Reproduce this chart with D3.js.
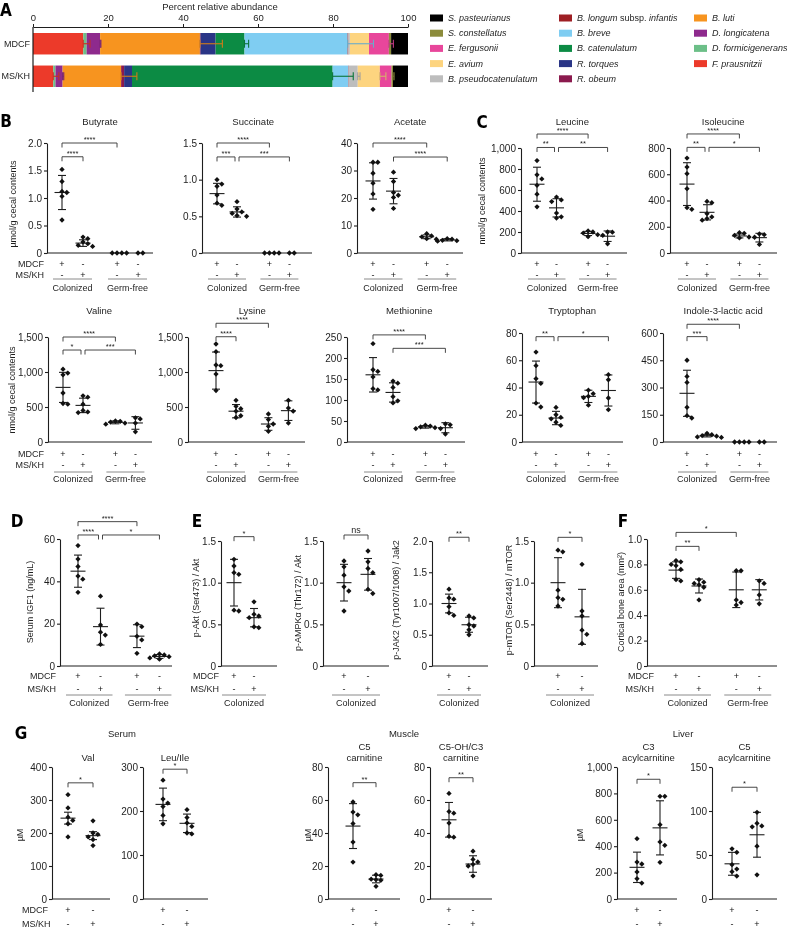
<!DOCTYPE html>
<html><head><meta charset="utf-8">
<script src="https://cdn.jsdelivr.net/npm/d3@7"></script>
<style>
body{margin:0;background:#fff}
svg{display:block;font-family:"Liberation Sans",Arial,Helvetica,sans-serif;will-change:transform}
</style></head><body>
<svg id="fig" width="787" height="928"></svg>
<script>
// ================= DATA =================
// Panel A (legend order)
const legendSpecies = ["S. pasteurianus","S. constellatus","E. fergusonii","E. avium","B. pseudocatenulatum",
  "B. longum subsp. infantis","B. breve","B. catenulatum","R. torques","R. obeum",
  "B. luti","D. longicatena","D. formicigenerans","F. prausnitzii"];
const legendColors = ["#000000","#8c8c3c","#e8469b","#fdd47f","#bdbdbd",
  "#9e1f24","#7fcdf2","#0c8b44","#2a3586","#8b1a4e",
  "#f7941f","#8e2a8d","#6cbf88","#ec3a2a"];
const samples = ["MDCF","MS/KH"];
// stacking order (left to right) = reversed legend order
const abundanceMDCF = [13.4,0.9,3.6,26.6,0.2,4.0,7.7,27.5,0.2,0.4,5.1,5.3,0.6,4.5];
const abundanceMSKH = [5.4,0.6,1.9,15.6,0.8,2.1,53.5,4.2,0.1,2.4,5.9,3.1,0.4,4.0];
const sdMDCF = [1.8,0,0.2,6.0,0,0,1.1,6.9,0,0,0,1.2,0,0];
const sdMSKH = [1.5,0,0.3,4.2,0,0,5.5,0,0,0.6,1.6,0,0.3,0];
const abundanceTicks = [0,20,40,60,80,100];

// Group sign rows
const mdcfSigns4 = ["+","-","+","-"], mskhSigns4 = ["-","+","-","+"];
const mdcfSigns2 = ["+","-"], mskhSigns2 = ["-","+"];
const groupNames = ["Colonized","Germ-free"];

// B
const butyrateVals = [[1.52,1.3,1.12,1.1,1.03,0.6],[0.29,0.26,0.2,0.17,0.14,0.12],[0,0,0,0],[0,0]];
const butyrateStats = [[1.1,0.31],[0.18,0.06],[0,0],[0,0]];
const butyrateTicks = [0,0.5,1,1.5,2];
const butyrateSig = [[0,2,2.0,"****"],[0,1,1.75,"****"]];

const succinateVals = [[1.0,0.94,0.91,0.79,0.68,0.65],[0.7,0.6,0.56,0.54,0.51,0.5],[0,0,0,0],[0,0]];
const succinateStats = [[0.81,0.14],[0.56,0.07],[0,0],[0,0]];
const succinateTicks = [0,0.5,1,1.5];
const succinateSig = [[0,2,1.5,"****"],[0,1,1.31,"***"],[1,3,1.31,"***"]];

const acetateVals = [[33,33,29,25.4,21.5,15.9],[29.4,26,22,21,20.2,16.2],[7,6.2,5.9,5.2,5],[5.2,5,4.6,4.5,4.3]];
const acetateStats = [[26.2,6.6],[22.5,4.6],[5.9,0.7],[4.8,0.4]];
const acetateTicks = [0,10,20,30,40];
const acetateSig = [[0,2,40,"****"],[1,3,34.9,"****"]];

// C
const leucineVals = [[880,745,705,645,560,440],[533,505,490,380,345,333],[210,200,190,175,155],[200,198,168,88]];
const leucineStats = [[655,162],[430,87],[186,20],[160,50]];
const leucineTicks = [0,200,400,600,800,1000];
const leucineSig = [[0,2,1133,"****"],[0,1,1005,"**"],[1,3,1005,"**"]];

const isoleucineVals = [[723,655,604,490,345,333],[393,383,300,275,262,250],[155,150,135,122,115],[145,140,120,65]];
const isoleucineStats = [[525,163],[310,58],[130,15],[117,33]];
const isoleucineTicks = [0,200,400,600,800];
const isoleucineSig = [[0,2,907,"****"],[0,1,805,"**"],[1,3,805,"*"]];

const valineVals = [[1040,985,960,700,550,540],[660,640,540,450,430,420],[300,295,285,270,255],[345,330,270,145]];
const valineStats = [[780,215],[523,103],[280,20],[272,90]];
const valineTicks = [0,500,1000,1500];
const valineSig = [[0,2,1500,"****"],[0,1,1314,"*"],[1,3,1314,"***"]];

const lysineVals = [[1400,1290,1100,1090,970,735],[595,510,475,440,375,350],[400,320,257,224,152],[595,485,440,270]];
const lysineStats = [[1020,265],[440,95],[257,90],[448,140]];
const lysineTicks = [0,500,1000,1500];
const lysineSig = [[0,2,1696,"****"],[0,1,1504,"****"]];

const methionineVals = [[234,172,168,155,127,124],[145,140,130,108,98,93],[40,38,36,34,32],[43,41,32,19]];
const methionineStats = [[160,41],[118,23],[36,3],[34,12]];
const methionineTicks = [0,50,100,150,200,250];
const methionineSig = [[0,2,255,"****"],[1,3,223,"***"]];

const tryptophanVals = [[66,56,46.5,43,28.5,25.7],[25.4,20,18,17,14.5,12.2],[38,35.5,33.5,32.5,27],[49.4,45.7,32.3,23.7]];
const tryptophanStats = [[44,15.4],[17.6,4.9],[33.5,4.5],[37.8,11.4]];
const tryptophanTicks = [0,20,40,60,80];
const tryptophanSig = [[0,1,77.3,"**"],[1,3,77.3,"*"]];

const indoleVals = [[450,361,328,191,145,132],[48,40,35,32,28,25],[0,0,0,0],[0,0]];
const indoleStats = [[268,127],[35,7],[0,0],[0,0]];
const indoleTicks = [0,150,300,450,600];
const indoleSig = [[0,2,648,"****"],[0,1,580,"***"]];

// D
const igf1Vals = [[56.9,50.5,47,42.5,41,34.8],[33,19.4,16,14.6,10.2],[19.8,18.6,14,12.3,6],[5.7,5.2,4.8,4.4,3.8,3.2]];
const igf1Stats = [[44.8,7.6],[18.6,8.7],[14.1,5.4],[4.5,0.9]];
const igf1Ticks = [0,20,40,60];
const igf1Sig = [[0,2,68.2,"****"],[0,1,61.9,"****"],[1,3,61.9,"*"]];

// E
const aktVals = [[1.28,1.2,1.12,1.1,0.67,0.66],[0.77,0.62,0.6,0.58,0.47,0.46]];
const aktStats = [[1.0,0.28],[0.58,0.11]];
const aktTicks = [0,0.5,1,1.5];
const aktSig = [[0,1,1.552,"*"]];

const ampkVals = [[1.26,1.19,1.09,0.95,0.9,0.66],[1.38,1.25,1.17,1.12,0.92,0.87]];
const ampkStats = [[1.0,0.22],[1.1,0.19]];
const ampkTicks = [0,0.5,1,1.5];
const ampkSig = [[0,1,1.572,"ns"]];

const jak2Vals = [[1.23,1.09,1.07,0.95,0.85,0.81],[0.8,0.77,0.66,0.64,0.58,0.5]];
const jak2Stats = [[1.0,0.15],[0.66,0.12]];
const jak2Ticks = [0,0.5,1,1.5,2];
const jak2Sig = [[0,1,2.06,"**"]];

const mtorVals = [[1.39,1.37,0.91,0.82,0.8,0.72],[1.22,0.66,0.6,0.43,0.38,0.27]];
const mtorStats = [[1.0,0.3],[0.59,0.33]];
const mtorTicks = [0,0.5,1,1.5];
const mtorSig = [[0,1,1.544,"*"]];

// F
const boneVals = [[0.83,0.82,0.8,0.79,0.76,0.68,0.67],[0.68,0.66,0.65,0.64,0.62,0.52],[0.75,0.75,0.52,0.5,0.48],[0.67,0.65,0.56,0.49]];
const boneStats = [[0.755,0.065],[0.63,0.055],[0.6,0.14],[0.6,0.08]];
const boneTicks = [0,0.2,0.4,0.6,0.8,1.0];
const boneSig = [[0,2,1.052,"*"],[0,1,0.942,"**"]];

// G
const valVals = [[316,276,248,238,228,188],[237,200,196,188,180,162]];
const valStats = [[245,18],[192,12]];
const valTicks = [0,100,200,300,400];
const valSig = [[0,1,352,"*"]];

const leuIleVals = [[270,227,218,210,190,171],[203,185,173,165,150,148]];
const leuIleStats = [[215,37],[172,21]];
const leuIleTicks = [0,100,200,300];
const leuIleSig = [[0,1,295,"*"]];

const c5carnVals = [[58.8,52.7,51,45.7,34.5,22.4],[14.7,14.3,12,11.7,11.3,7.7]];
const c5carnStats = [[44.2,13.6],[12.1,2.3]];
const c5carnTicks = [0,20,40,60,80];
const c5carnSig = [[0,1,70.5,"**"]];

const c5ohVals = [[64,53,52,46,38,37.5],[29,24,22.5,21,20,14]];
const c5ohStats = [[48,10.5],[21.2,5]];
const c5ohTicks = [0,20,40,60,80];
const c5ohSig = [[0,1,73.5,"**"]];

const c3acylVals = [[457,280,265,205,154,121],[778,778,563,432,407,278]];
const c3acylStats = [[240,115],[539,205]];
const c3acylTicks = [0,200,400,600,800,1000];
const c3acylSig = [[0,1,907,"*"]];

const c5acylVals = [[57,53,39,34,31,26],[98.5,86,83,82,60,27.5]];
const c5acylStats = [[40,13],[73,25.5]];
const c5acylTicks = [0,50,100,150];
const c5acylSig = [[0,1,127,"*"]];

// ================= LAYOUT =================
const INK = "#1e1e1e";
const svg = d3.select("#fig");
const slots4 = [0,1,2.62,3.62], slots2 = [0,1];

const rowCfg = {
  r1:{yBot:253, titleY:121, signY:[264,275], lineY:279, groupY:288, pad:9},
  r2:{yBot:442, titleY:310, signY:[454,465], lineY:472, groupY:479, pad:9},
  r3:{yBot:666, signY:[676,689], lineY:695, groupY:703, pad:12},
  rG:{yBot:899, titleY:757, signY:[910,924]}
};

const panels = [
  {row:"r1", title:["Butyrate"], vals:butyrateVals, stats:butyrateStats, ticks:butyrateTicks, sig:butyrateSig,
   ax:47, xEnd:153, yTop:143, g0:62, step:21, rowLabel:{x:44, anchor:"end"}, ylabel:{t:"µmol/g cecal contents", x:13, y:204}},
  {row:"r1", title:["Succinate"], vals:succinateVals, stats:succinateStats, ticks:succinateTicks, sig:succinateSig,
   ax:202, xEnd:312, yTop:143, g0:217, step:20},
  {row:"r1", title:["Acetate"], vals:acetateVals, stats:acetateStats, ticks:acetateTicks, sig:acetateSig,
   ax:357, xEnd:463, yTop:143, g0:373, step:20.5},
  {row:"r1", title:["Leucine"], vals:leucineVals, stats:leucineStats, ticks:leucineTicks, sig:leucineSig,
   ax:521, xEnd:627, yTop:148, g0:537, step:19.5, ylabel:{t:"nmol/g cecal contents", x:482, y:201}},
  {row:"r1", title:["Isoleucine"], vals:isoleucineVals, stats:isoleucineStats, ticks:isoleucineTicks, sig:isoleucineSig,
   ax:670, xEnd:777, yTop:148, g0:687, step:20},
  {row:"r2", title:["Valine"], vals:valineVals, stats:valineStats, ticks:valineTicks, sig:valineSig,
   ax:48, xEnd:152, yTop:337, g0:63, step:20, rowLabel:{x:44, anchor:"end"}, ylabel:{t:"nmol/g cecal contents", x:12, y:390}},
  {row:"r2", title:["Lysine"], vals:lysineVals, stats:lysineStats, ticks:lysineTicks, sig:lysineSig,
   ax:188, xEnd:305, yTop:337, g0:216, step:20},
  {row:"r2", title:["Methionine"], vals:methionineVals, stats:methionineStats, ticks:methionineTicks, sig:methionineSig,
   ax:347, xEnd:465, yTop:337, g0:373, step:20},
  {row:"r2", title:["Tryptophan"], vals:tryptophanVals, stats:tryptophanStats, ticks:tryptophanTicks, sig:tryptophanSig,
   ax:522, xEnd:623, yTop:333, g0:536, step:20},
  {row:"r2", title:["Indole-3-lactic acid"], vals:indoleVals, stats:indoleStats, ticks:indoleTicks, sig:indoleSig,
   ax:663, xEnd:777, yTop:333, g0:687, step:20},
  {row:"r3", vals:igf1Vals, stats:igf1Stats, ticks:igf1Ticks, sig:igf1Sig,
   ax:60, xEnd:172, yTop:539, g0:78, step:22.5, rowLabel:{x:56, anchor:"end"}, ylabel:{t:"Serum IGF1 (ng/mL)", x:30, y:602}},
  {row:"r3", vals:aktVals, stats:aktStats, ticks:aktTicks, sig:aktSig,
   ax:221, xEnd:277, yTop:541, g0:234, step:20, rowLabel:{x:219, anchor:"end"}, ylabel:{t:"p-Akt (Ser473) / Akt", x:196, y:598}},
  {row:"r3", vals:ampkVals, stats:ampkStats, ticks:ampkTicks, sig:ampkSig,
   ax:323, xEnd:389, yTop:541, g0:344, step:24, ylabel:{t:"p-AMPKα (Thr172) / Akt", x:298, y:603}},
  {row:"r3", vals:jak2Vals, stats:jak2Stats, ticks:jak2Ticks, sig:jak2Sig,
   ax:432, xEnd:488, yTop:541, g0:449, step:20, ylabel:{t:"p-JAK2 (Tyr1007/1008) / Jak2", x:396, y:600}},
  {row:"r3", vals:mtorVals, stats:mtorStats, ticks:mtorTicks, sig:mtorSig,
   ax:534, xEnd:598, yTop:541, g0:558, step:24, ylabel:{t:"p-mTOR (Ser2448) / mTOR", x:509, y:600}},
  {row:"r3", vals:boneVals, stats:boneStats, ticks:boneTicks, sig:boneSig,
   ax:647, xEnd:777, yTop:539, g0:676, step:23, rowLabel:{x:654, anchor:"end"}, ylabel:{t:"Cortical bone area (mm²)", x:621, y:602}},
  {row:"rG", title:["Val"], titleX:88, vals:valVals, stats:valStats, ticks:valTicks, sig:valSig,
   ax:52, xEnd:110, yTop:767, g0:68, step:25, rowLabel:{x:22, anchor:"start"}, ylabel:{t:"µM", x:20, y:835}},
  {row:"rG", title:["Leu/Ile"], vals:leuIleVals, stats:leuIleStats, ticks:leuIleTicks, sig:leuIleSig,
   ax:143, xEnd:208, yTop:767, g0:163, step:24},
  {row:"rG", title:["C5","carnitine"], vals:c5carnVals, stats:c5carnStats, ticks:c5carnTicks, sig:c5carnSig,
   ax:328, xEnd:400, yTop:767, g0:353, step:23, ylabel:{t:"µM", x:308, y:835}},
  {row:"rG", title:["C5-OH/C3","carnitine"], vals:c5ohVals, stats:c5ohStats, ticks:c5ohTicks, sig:c5ohSig,
   ax:430, xEnd:492, yTop:767, g0:449, step:24},
  {row:"rG", title:["C3","acylcarnitine"], vals:c3acylVals, stats:c3acylStats, ticks:c3acylTicks, sig:c3acylSig,
   ax:617, xEnd:677, yTop:767, g0:637, step:23, ylabel:{t:"µM", x:580, y:835}},
  {row:"rG", title:["C5","acylcarnitine"], vals:c5acylVals, stats:c5acylStats, ticks:c5acylTicks, sig:c5acylSig,
   ax:712, xEnd:777, yTop:767, g0:732, step:25}
];

// ================= HELPERS =================
function txt(g, x, y, s, o = {}) {
  return g.append("text").attr("x", x).attr("y", y).text(s)
    .attr("font-size", o.size || 9).attr("fill", o.fill || INK)
    .attr("text-anchor", o.anchor || "middle").attr("dominant-baseline", o.base || "central")
    .attr("font-weight", o.weight || null).attr("font-style", o.style || null)
    .attr("font-family", o.family || null);
}

function swarm(vals, y, d) {
  const pts = vals.map(v => ({v, py: y(v)})).sort((a, b) => a.py - b.py);
  const placed = [];
  for (const p of pts) {
    let k = 0, off = 0;
    while (k < 40) {
      off = k === 0 ? 0 : (k % 2 ? 1 : -1) * Math.ceil(k / 2) * d;
      if (placed.every(q => (q.dx - off) ** 2 + (q.py - p.py) ** 2 >= d * d - 0.01)) break;
      k++;
    }
    p.dx = off; placed.push(p);
  }
  return pts;
}

function dotPanel(P) {
  const R = rowCfg[P.row];
  const n = P.vals.length;
  const slots = n === 4 ? slots4 : slots2;
  const gx = i => P.g0 + slots[i] * P.step;
  const y = d3.scaleLinear().domain([0, d3.max(P.ticks)]).range([R.yBot, P.yTop]);
  const g = svg.append("g");
  const hasDec = P.ticks.some(t => !Number.isInteger(t));
  const axis = d3.axisLeft(y).tickValues(P.ticks).tickSize(3).tickSizeOuter(0).tickPadding(2)
    .tickFormat(v => v === 0 ? "0" : hasDec ? v.toFixed(1) : d3.format(",")(v));
  const ag = g.append("g").attr("transform", `translate(${P.ax},0)`).call(axis);
  ag.select(".domain").attr("stroke", INK).attr("stroke-width", 1.1);
  ag.selectAll(".tick line").attr("stroke", INK).attr("stroke-width", 1.1);
  ag.selectAll(".tick text").attr("font-size", 10).attr("fill", INK).attr("font-family", "Liberation Sans, Arial, sans-serif");
  g.append("line").attr("x1", P.ax).attr("x2", P.xEnd).attr("y1", R.yBot).attr("y2", R.yBot)
    .attr("stroke", INK).attr("stroke-width", 1.1);

  if (P.title) {
    const tx = P.titleX || (gx(0) + gx(n - 1)) / 2;
    P.title.forEach((t, i) => txt(g, tx, R.titleY - (P.title.length - 1 - i) * 10.5, t, {size: 9.5}));
  }
  if (P.ylabel) {
    g.append("text").attr("transform", `translate(${P.ylabel.x},${P.ylabel.y}) rotate(-90)`)
      .attr("text-anchor", "middle").attr("dominant-baseline", "central")
      .attr("font-size", 9).attr("fill", INK).text(P.ylabel.t);
  }
  P.vals.forEach((vals, i) => {
    const cx = gx(i);
    const [m, e] = P.stats[i];
    if (!(m === 0 && e === 0)) {
      const eg = g.append("g").attr("stroke", INK).attr("stroke-width", 1.1);
      eg.append("line").attr("x1", cx).attr("x2", cx).attr("y1", y(m - e)).attr("y2", y(m + e));
      eg.append("line").attr("x1", cx - 4).attr("x2", cx + 4).attr("y1", y(m + e)).attr("y2", y(m + e));
      eg.append("line").attr("x1", cx - 4).attr("x2", cx + 4).attr("y1", y(m - e)).attr("y2", y(m - e));
      eg.append("line").attr("x1", cx - 7.5).attr("x2", cx + 7.5).attr("y1", y(m)).attr("y2", y(m));
    }
    const pts = swarm(vals, y, 4.8);
    g.selectAll(null).data(pts).enter().append("path")
      .attr("d", d3.symbol().type(d3.symbolSquare).size(14)())
      .attr("transform", p => `translate(${cx + p.dx},${p.py}) rotate(45)`)
      .attr("fill", "#111");
  });
  P.sig.forEach(([a, b, lev, lab]) => {
    const yy = y(lev);
    const sharedL = P.sig.some(s => s[2] === lev && s[1] === a);
    const sharedR = P.sig.some(s => s[2] === lev && s[0] === b);
    const x1 = gx(a) + (sharedL ? 2 : 0), x2 = gx(b) - (sharedR ? 2 : 0);
    g.append("path").attr("d", `M${x1},${yy + 4.5}V${yy}H${x2}V${yy + 4.5}`)
      .attr("fill", "none").attr("stroke", "#333").attr("stroke-width", 0.9);
    txt(g, (x1 + x2) / 2, yy - (lab === "ns" ? 5.5 : 3.5), lab, {size: lab === "ns" ? 9 : 7.5});
  });
  const mdcf = n === 4 ? mdcfSigns4 : mdcfSigns2, mskh = n === 4 ? mskhSigns4 : mskhSigns2;
  for (let i = 0; i < n; i++) {
    txt(g, gx(i), R.signY[0], mdcf[i], {size: 9, fill: "#111"});
    txt(g, gx(i), R.signY[1], mskh[i], {size: 9, fill: "#111"});
  }
  if (P.rowLabel) {
    txt(g, P.rowLabel.x, R.signY[0], "MDCF", {size: 9, anchor: P.rowLabel.anchor});
    txt(g, P.rowLabel.x, R.signY[1], "MS/KH", {size: 9, anchor: P.rowLabel.anchor});
  }
  if (R.lineY) {
    for (let k = 0; k < n / 2; k++) {
      const a = gx(2 * k) - R.pad, b = gx(2 * k + 1) + R.pad;
      g.append("line").attr("x1", a).attr("x2", b).attr("y1", R.lineY).attr("y2", R.lineY)
        .attr("stroke", "#8a8a8a").attr("stroke-width", 1);
      txt(g, (a + b) / 2, R.groupY, groupNames[k], {size: 9});
    }
  }
}

// ================= PANEL A =================
(function panelA() {
  const g = svg.append("g");
  const stackSpecies = legendSpecies.slice().reverse();
  const stackColors = legendColors.slice().reverse();
  const abund = [abundanceMDCF, abundanceMSKH], sds = [sdMDCF, sdMSKH];
  const rows = samples.map((s, i) => {
    const o = {sample: s};
    stackSpecies.forEach((nm, j) => o[nm] = abund[i][j]);
    return o;
  });
  const series = d3.stack().keys(stackSpecies)(rows);
  const x = d3.scaleLinear().domain([0, 100]).range([33, 408]);
  const yb = d3.scaleBand().domain(samples).range([33, 87]).paddingInner(0.34).paddingOuter(0);

  series.forEach((s, j) => {
    g.selectAll(null).data(s).enter().append("rect")
      .attr("x", d => x(d[0])).attr("width", d => Math.max(0, x(d[1]) - x(d[0])))
      .attr("y", d => yb(d.data.sample)).attr("height", yb.bandwidth())
      .attr("fill", stackColors[j]);
  });
  series.forEach((s, j) => {
    s.forEach((d, i) => {
      const sd = sds[i][j];
      if (!sd) return;
      const cy = yb(d.data.sample) + yb.bandwidth() / 2;
      const col = d3.color(stackColors[j]).darker(0.5).formatHex();
      const eg = g.append("g").attr("stroke", col).attr("stroke-width", 1.1);
      eg.append("line").attr("x1", x(d[1])).attr("x2", x(d[1] + sd)).attr("y1", cy).attr("y2", cy);
      eg.append("line").attr("x1", x(d[1] + sd)).attr("x2", x(d[1] + sd)).attr("y1", cy - 4).attr("y2", cy + 4);
      eg.append("line").attr("x1", x(d[1])).attr("x2", x(d[1])).attr("y1", cy - 4).attr("y2", cy + 4);
    });
  });
  const ax = g.append("g").attr("transform", "translate(0,27)")
    .call(d3.axisTop(x).tickValues(abundanceTicks).tickSize(3).tickSizeOuter(0).tickPadding(3));
  ax.select(".domain").attr("stroke", INK).attr("stroke-width", 1.2);
  ax.selectAll(".tick line").attr("stroke", INK);
  ax.selectAll(".tick text").attr("font-size", 9.5).attr("fill", INK);
  g.append("line").attr("x1", 33).attr("x2", 33).attr("y1", 27).attr("y2", 92).attr("stroke", INK).attr("stroke-width", 1.2);
  txt(g, 220, 6, "Percent relative abundance", {size: 9.5});
  samples.forEach(s => txt(g, 30, yb(s) + yb.bandwidth() / 2, s, {size: 9, anchor: "end"}));

  const colX = [430, 559, 694];
  legendSpecies.forEach((nm, i) => {
    const c = i < 5 ? 0 : i < 10 ? 1 : 2;
    const r = i < 5 ? i : i < 10 ? i - 5 : i - 10;
    const cy = 18 + r * 15.2;
    g.append("rect").attr("x", colX[c]).attr("y", cy - 3.5).attr("width", 13).attr("height", 7).attr("fill", legendColors[i]);
    const t = g.append("text").attr("x", colX[c] + 18).attr("y", cy).attr("dominant-baseline", "central")
      .attr("font-size", 9).attr("fill", INK);
    if (nm.includes(" subsp. ")) {
      const [p1, p2] = nm.split(" subsp. ");
      t.append("tspan").attr("font-style", "italic").text(p1);
      t.append("tspan").text(" subsp. ");
      t.append("tspan").attr("font-style", "italic").text(p2);
    } else {
      t.attr("font-style", "italic").text(nm);
    }
  });
})();

// ================= DOT PANELS =================
panels.forEach(dotPanel);

txt(svg, 122, 733, "Serum", {size: 9.5});
txt(svg, 404, 733, "Muscle", {size: 9.5});
txt(svg, 683, 733, "Liver", {size: 9.5});

const letterFont = "'Liberation Sans Narrow','DejaVu Sans Condensed','Liberation Sans',sans-serif";
[["A",6,10],["B",6,121],["C",482,122],["D",17,521],["E",197,521],["F",623,521],["G",21,733]]
  .forEach(([l, x, y]) => txt(svg, x, y, l, {size: 17, weight: "bold", family: letterFont, fill: "#000"}));
</script>
</body></html>
